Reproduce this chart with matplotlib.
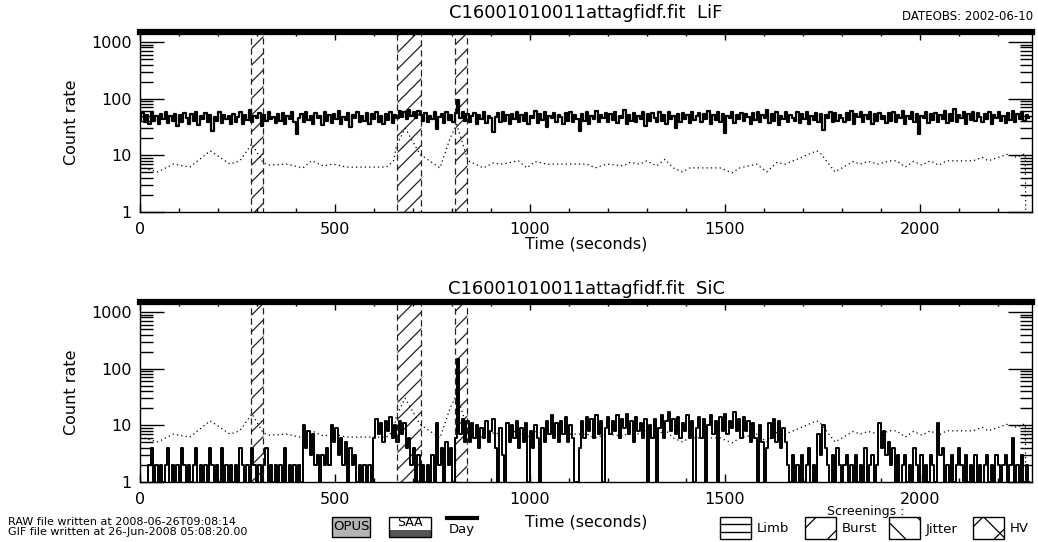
import numpy as np
import matplotlib.pyplot as plt
from matplotlib.patches import Rectangle
from matplotlib.lines import Line2D
from matplotlib.ticker import LogLocator, MultipleLocator, NullFormatter

plt.rcParams['path.simplify'] = False
plt.rcParams['hatch.linewidth'] = 0.9

# count rate per 6 s bin
bin_sec = 6
lif_rate = [
    42, 55, 38, 51, 36, 58, 40, 49, 35, 53, 44, 57, 37, 50, 41, 54, 33, 52, 39, 56,
    45, 36, 53, 40, 58, 34, 49, 43, 55, 38, 51, 27, 48, 41, 57, 37, 52, 44, 50, 35,
    54, 39, 47, 58, 36, 51, 42, 62, 38, 49, 45, 55, 33, 52, 40, 57, 43, 48, 37, 53,
    41, 56, 35, 50, 44, 59, 38, 24, 46, 53, 39, 57, 42, 50, 36, 55, 45, 49, 34, 58,
    40, 52, 37, 54, 43, 60, 36, 48, 42, 56, 31, 51, 45, 58, 38, 50, 41, 55, 35, 53,
    44, 57, 39, 49, 36, 54, 42, 58, 37, 51, 46, 60, 48, 57, 43, 62, 50, 59, 45, 61,
    52, 40, 56, 38, 50, 44, 57, 29, 48, 54, 37, 58, 42, 51, 39, 55, 95, 46, 57, 40,
    53, 38, 49, 56, 35, 52, 43, 59, 37, 50, 45, 26, 48, 55, 39, 57, 41, 51, 36, 54,
    44, 58, 38, 52, 40, 56, 35, 49, 46, 61, 37, 53, 42, 57, 32, 50, 45, 55, 39, 52,
    47, 36, 55, 41, 58, 38, 51, 44, 27, 53, 40, 57, 36, 49, 43, 60, 38, 52, 45, 56,
    39, 54, 42, 58, 37, 50, 46, 63, 35, 52, 41, 56, 38, 49, 44, 57, 33, 53, 40, 55,
    45, 38, 57, 41, 52, 36, 59, 43, 50, 30, 54, 39, 56, 44, 51, 37, 58, 42, 49, 55,
    38, 53, 44, 60, 36, 51, 42, 57, 39, 54, 25, 50, 46, 58, 37, 52, 43, 56, 40, 53,
    48, 36, 55, 42, 58, 39, 51, 45, 62, 37, 53, 41, 57, 34, 50, 44, 59, 38, 52, 46,
    40, 57, 37, 53, 44, 59, 35, 50, 42, 56, 39, 54, 28, 51, 46, 58, 38, 55, 41, 52,
    45, 38, 56, 42, 60, 36, 53, 47, 57, 39, 51, 43, 58, 35, 54, 40, 56, 44, 50, 37,
    55, 41, 58, 38, 52, 45, 61, 36, 49, 43, 57, 39, 53, 24, 50, 46, 59, 37, 54, 42,
    56, 39, 52, 44, 60, 37, 54, 41, 65, 38, 51, 46, 57, 35, 53, 42, 58, 40, 55, 47,
    38, 54, 43, 59, 36, 52, 45, 57, 40, 50, 37, 56, 42, 61, 39, 53, 44, 58, 41, 52,
    45]

sic_rate = [
    0, 0, 0, 0, 2, 4, 0, 2, 0, 2, 1, 2, 4, 0, 2, 0, 2, 1, 4, 2,
    0, 2, 1, 2, 4, 0, 2, 0, 2, 1, 4, 2, 0, 2, 1, 4, 0, 2, 0, 2,
    1, 2, 0, 4, 2, 0, 2, 1, 4, 2, 0, 2, 1, 2, 4, 0, 2, 1, 2, 0,
    2, 1, 4, 0, 2, 1, 2, 0, 2, 1, 10, 4, 8, 3, 7, 2, 3, 1, 3, 2,
    4, 2, 10, 5, 9, 3, 6, 2, 5, 1, 4, 2, 3, 1, 2, 0, 2, 1, 2, 0,
    6, 13, 7, 11, 5, 12, 8, 14, 6, 10, 5, 12, 7, 11, 4, 6, 2, 4, 1, 3,
    0, 2, 1, 2, 0, 3, 1, 11, 2, 4, 1, 5, 2, 4, 1, 6, 150, 7, 13, 5,
    12, 5, 11, 6, 10, 4, 9, 6, 12, 5, 8, 13, 4, 1, 9, 3, 1, 11, 5, 10,
    6, 12, 4, 9, 5, 11, 1, 8, 4, 10, 6, 1, 9, 5, 12, 7, 15, 6, 11, 5,
    12, 7, 14, 5, 10, 6, 1, 1, 4, 12, 6, 14, 8, 13, 6, 15, 7, 12, 1, 9,
    14, 7, 12, 8, 15, 6, 13, 9, 16, 7, 12, 5, 14, 8, 11, 6, 13, 1, 10, 6,
    13, 1, 9, 15, 6, 12, 17, 8, 13, 7, 14, 6, 11, 8, 15, 6, 12, 1, 9, 14,
    6, 13, 1, 10, 15, 7, 12, 1, 14, 8, 16, 7, 12, 9, 17, 8, 13, 6, 14, 8,
    12, 5, 11, 6, 1, 10, 5, 1, 4, 11, 6, 13, 5, 12, 4, 9, 5, 2, 1, 3,
    1, 2, 0, 3, 1, 2, 4, 0, 2, 1, 7, 3, 10, 4, 2, 0, 3, 1, 4, 2,
    0, 2, 3, 1, 2, 0, 3, 1, 2, 0, 4, 1, 2, 3, 0, 2, 11, 4, 8, 3,
    5, 2, 4, 1, 3, 0, 2, 3, 1, 2, 0, 4, 2, 1, 3, 0, 2, 1, 3, 2,
    1, 11, 3, 4, 1, 2, 0, 3, 1, 2, 4, 2, 0, 3, 1, 2, 0, 3, 1, 2,
    0, 2, 3, 1, 2, 0, 3, 2, 0, 2, 3, 1, 2, 6, 1, 2, 0, 3, 1, 2,
    1]

# dotted background curve
bg_t = [0, 8, 46, 85, 128, 180, 231, 256, 287, 316, 333, 376, 418, 440, 470,
        495, 530, 632, 650, 658, 680, 718, 769, 795, 812, 841, 880, 905, 931, 970,
        992, 1013, 1043, 1146, 1167, 1197, 1239, 1256, 1282, 1299, 1325, 1346, 1367,
        1390, 1410, 1487, 1518, 1538, 1581, 1607, 1633, 1654, 1684, 1735, 1744, 1782,
        1829, 1846, 1867, 1893, 1923, 1940, 1962, 1983, 2005, 2026, 2048, 2068, 2136,
        2159, 2175, 2223, 2248, 2265, 2270, 2271]
bg_v = [6, 6, 5.1, 7, 6.2, 12, 7, 8, 16, 7.3, 6.7, 7, 6, 8, 6.5,
        7, 6.2, 6.2, 8, 15, 30, 10.4, 6, 20, 35, 8, 6, 7.3, 7, 8,
        6, 7.8, 7, 7, 6, 7, 6.5, 7.5, 7, 8, 6.5, 8.5, 6,
        5.1, 6, 6, 4.9, 6, 7, 5.1, 7.5, 7, 8.5, 12, 11, 5.1,
        7.8, 7, 7.8, 7, 8, 8, 6.2, 7.8, 6.7, 8, 6.7, 8, 8,
        9.2, 8, 10.4, 9.2, 10.4, 10.4, 0.5]

# burst screening intervals (s)
burst_start = [285, 659, 808]
burst_end = [315, 720, 838]

t_max = 2287
W, H = 1038, 542


def px(x, y):
    return x / W, 1 - y / H


def draw_panel(ax, rate, title, title_y, label_y, lw):
    t = np.arange(len(rate)) * bin_sec
    ax.step(t, np.clip(rate, 0.5, None), where='mid', color='black', lw=lw)
    ax.plot(bg_t, bg_v, color='black', lw=0.9, linestyle=(0, (1, 2.5)))
    for a, b in zip(burst_start, burst_end):
        ax.axvspan(a, b, fill=False, hatch='//', edgecolor='#222222',
                   linestyle=(0, (5, 3)), lw=0.9)
    ax.set_xlim(0, t_max)
    ax.set_yscale('log')
    ax.set_ylim(1, 1500)
    ax.set_yticks([1, 10, 100, 1000])
    ax.set_yticklabels(['1', '10', '100', '1000'])
    ax.yaxis.set_minor_locator(LogLocator(subs=range(2, 10)))
    ax.yaxis.set_minor_formatter(NullFormatter())
    ax.xaxis.set_major_locator(MultipleLocator(500))
    ax.xaxis.set_minor_locator(MultipleLocator(100))
    ax.tick_params(axis='y', which='major', direction='in', length=17, width=1,
                   right=True, labelsize=11.5, pad=6)
    ax.tick_params(axis='y', which='minor', direction='in', length=9, width=1, right=True)
    ax.tick_params(axis='x', which='major', direction='in', length=6, width=1,
                   top=True, labelsize=11.5, pad=7)
    ax.tick_params(axis='x', which='minor', direction='in', length=3, width=1, top=True)
    for s in ['left', 'right', 'bottom']:
        ax.spines[s].set_linewidth(1.0)
    ax.spines['top'].set_linewidth(4.5)  # day bar
    fig.text(*px(586, title_y), title, fontsize=13, ha='center', va='center')
    fig.text(*px(72, label_y), 'Count rate', fontsize=11.5, rotation=90,
             ha='center', va='center')


fig = plt.figure(figsize=(W / 100, H / 100), dpi=100)
ax1 = fig.add_axes([140 / W, 330 / H, 892 / W, 180 / H])
ax2 = fig.add_axes([140 / W, 60 / H, 892 / W, 180 / H])

draw_panel(ax1, lif_rate, 'C16001010011attagfidf.fit  LiF', 13, 122, 1.6)
draw_panel(ax2, sic_rate, 'C16001010011attagfidf.fit  SiC', 289, 392, 1.4)

fig.text(*px(1033, 17), 'DATEOBS: 2002-06-10', fontsize=8.5, ha='right', va='center')
fig.text(*px(586, 244), 'Time (seconds)', fontsize=11.5, ha='center', va='center')
fig.text(*px(586, 522), 'Time (seconds)', fontsize=11.5, ha='center', va='center')

# footer
fig.text(*px(8, 522), 'RAW file written at 2008-06-26T09:08:14', fontsize=8, va='center')
fig.text(*px(8, 532), 'GIF file written at 26-Jun-2008 05:08:20.00', fontsize=8, va='center')


def box(x0, y0, x1, y1, **kw):
    fx, fy = px(x0, y1)
    r = Rectangle((fx, fy), (x1 - x0) / W, (y1 - y0) / H, transform=fig.transFigure, **kw)
    fig.add_artist(r)


box(332, 517, 370, 537, facecolor='#b4b4b4', edgecolor='black', lw=1)
fig.text(*px(351, 527), 'OPUS', fontsize=9.5, ha='center', va='center')
box(389, 530, 431, 537, facecolor='#555555', edgecolor='none')
box(389, 517, 431, 537, facecolor='none', edgecolor='black', lw=1)
fig.text(*px(410, 523), 'SAA', fontsize=9, ha='center', va='center')
fig.add_artist(Line2D([447 / W, 477 / W], [1 - 518 / H] * 2, color='black', lw=3,
                      transform=fig.transFigure))
fig.text(*px(462, 529), 'Day', fontsize=9.5, ha='center', va='center')

fig.text(*px(866, 512), 'Screenings :', fontsize=9, ha='center', va='center')
legend_items = [('Limb', 720, None), ('Burst', 805, '/'), ('Jitter', 889, '\\'), ('HV', 973, 'x')]
for name, x0, hatch in legend_items:
    box(x0, 517, x0 + 31, 539, facecolor='none', edgecolor='black', lw=1, hatch=hatch)
    if name == 'Limb':
        for yy in [524, 532]:
            fig.add_artist(Line2D([x0 / W, (x0 + 31) / W], [1 - yy / H] * 2, color='black',
                                  lw=1, transform=fig.transFigure))
    fig.text(*px(x0 + 37, 529), name, fontsize=9.5, va='center')

fig.savefig('out.png', dpi=100)
